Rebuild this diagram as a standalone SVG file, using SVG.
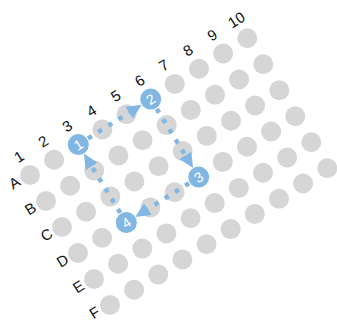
<svg xmlns="http://www.w3.org/2000/svg" width="337" height="322" viewBox="0 0 337 322">
<style>
.cell{fill:#d6d6d6}
.lbl{font-family:"Liberation Sans",Arial,sans-serif;font-size:15px;fill:#111;text-anchor:middle}
.mk{fill:#82b6e3}
.mkt{font-family:"Liberation Sans",Arial,sans-serif;font-size:14px;fill:#fff;text-anchor:middle}
.con{fill:none;stroke:#82b6e3;stroke-width:4.5;stroke-dasharray:4.5 7.5;marker-end:url(#arr)}
</style>
<defs>
<marker id="arr" markerUnits="userSpaceOnUse" markerWidth="18" markerHeight="18" refX="0" refY="7" orient="auto">
<path d="M0,0 L15,7 L0,14 z" fill="#82b6e3"/>
</marker>
</defs>
<g id="cells">
<g id="A1"><circle class="cell" cx="30" cy="175" r="10"/></g>
<g id="A2"><circle class="cell" cx="54.1" cy="159.8" r="10"/></g>
<g id="A3"><circle class="cell" cx="78.3" cy="144.6" r="10"/></g>
<g id="A4"><circle class="cell" cx="102.4" cy="129.4" r="10"/></g>
<g id="A5"><circle class="cell" cx="126.6" cy="114.2" r="10"/></g>
<g id="A6"><circle class="cell" cx="150.7" cy="99.1" r="10"/></g>
<g id="A7"><circle class="cell" cx="174.8" cy="83.9" r="10"/></g>
<g id="A8"><circle class="cell" cx="199" cy="68.7" r="10"/></g>
<g id="A9"><circle class="cell" cx="223.1" cy="53.5" r="10"/></g>
<g id="A10"><circle class="cell" cx="247.3" cy="38.3" r="10"/></g>
<g id="B1"><circle class="cell" cx="46" cy="201" r="10"/></g>
<g id="B2"><circle class="cell" cx="70.1" cy="185.8" r="10"/></g>
<g id="B3"><circle class="cell" cx="94.3" cy="170.6" r="10"/></g>
<g id="B4"><circle class="cell" cx="118.4" cy="155.4" r="10"/></g>
<g id="B5"><circle class="cell" cx="142.6" cy="140.2" r="10"/></g>
<g id="B6"><circle class="cell" cx="166.7" cy="125.1" r="10"/></g>
<g id="B7"><circle class="cell" cx="190.8" cy="109.9" r="10"/></g>
<g id="B8"><circle class="cell" cx="215" cy="94.7" r="10"/></g>
<g id="B9"><circle class="cell" cx="239.1" cy="79.5" r="10"/></g>
<g id="B10"><circle class="cell" cx="263.3" cy="64.3" r="10"/></g>
<g id="C1"><circle class="cell" cx="62" cy="227" r="10"/></g>
<g id="C2"><circle class="cell" cx="86.1" cy="211.8" r="10"/></g>
<g id="C3"><circle class="cell" cx="110.3" cy="196.6" r="10"/></g>
<g id="C4"><circle class="cell" cx="134.4" cy="181.4" r="10"/></g>
<g id="C5"><circle class="cell" cx="158.6" cy="166.2" r="10"/></g>
<g id="C6"><circle class="cell" cx="182.7" cy="151.1" r="10"/></g>
<g id="C7"><circle class="cell" cx="206.8" cy="135.9" r="10"/></g>
<g id="C8"><circle class="cell" cx="231" cy="120.7" r="10"/></g>
<g id="C9"><circle class="cell" cx="255.1" cy="105.5" r="10"/></g>
<g id="C10"><circle class="cell" cx="279.3" cy="90.3" r="10"/></g>
<g id="D1"><circle class="cell" cx="78" cy="253" r="10"/></g>
<g id="D2"><circle class="cell" cx="102.1" cy="237.8" r="10"/></g>
<g id="D3"><circle class="cell" cx="126.3" cy="222.6" r="10"/></g>
<g id="D4"><circle class="cell" cx="150.4" cy="207.4" r="10"/></g>
<g id="D5"><circle class="cell" cx="174.6" cy="192.2" r="10"/></g>
<g id="D6"><circle class="cell" cx="198.7" cy="177.1" r="10"/></g>
<g id="D7"><circle class="cell" cx="222.8" cy="161.9" r="10"/></g>
<g id="D8"><circle class="cell" cx="247" cy="146.7" r="10"/></g>
<g id="D9"><circle class="cell" cx="271.1" cy="131.5" r="10"/></g>
<g id="D10"><circle class="cell" cx="295.3" cy="116.3" r="10"/></g>
<g id="E1"><circle class="cell" cx="94" cy="279" r="10"/></g>
<g id="E2"><circle class="cell" cx="118.1" cy="263.8" r="10"/></g>
<g id="E3"><circle class="cell" cx="142.3" cy="248.6" r="10"/></g>
<g id="E4"><circle class="cell" cx="166.4" cy="233.4" r="10"/></g>
<g id="E5"><circle class="cell" cx="190.6" cy="218.2" r="10"/></g>
<g id="E6"><circle class="cell" cx="214.7" cy="203.1" r="10"/></g>
<g id="E7"><circle class="cell" cx="238.8" cy="187.9" r="10"/></g>
<g id="E8"><circle class="cell" cx="263" cy="172.7" r="10"/></g>
<g id="E9"><circle class="cell" cx="287.1" cy="157.5" r="10"/></g>
<g id="E10"><circle class="cell" cx="311.3" cy="142.3" r="10"/></g>
<g id="F1"><circle class="cell" cx="110" cy="305" r="10"/></g>
<g id="F2"><circle class="cell" cx="134.1" cy="289.8" r="10"/></g>
<g id="F3"><circle class="cell" cx="158.3" cy="274.6" r="10"/></g>
<g id="F4"><circle class="cell" cx="182.4" cy="259.4" r="10"/></g>
<g id="F5"><circle class="cell" cx="206.6" cy="244.2" r="10"/></g>
<g id="F6"><circle class="cell" cx="230.7" cy="229.1" r="10"/></g>
<g id="F7"><circle class="cell" cx="254.8" cy="213.9" r="10"/></g>
<g id="F8"><circle class="cell" cx="279" cy="198.7" r="10"/></g>
<g id="F9"><circle class="cell" cx="303.1" cy="183.5" r="10"/></g>
<g id="F10"><circle class="cell" cx="327.3" cy="168.3" r="10"/></g>
</g>
<g id="connectors">
<path class="con" transform="translate(78.3,144.6) rotate(-32.18)" d="M11.5,0 H60"/>
<path class="con" transform="translate(150.7,99.1) rotate(58.39)" d="M11.5,0 H66"/>
<path class="con" transform="translate(198.7,177.1) rotate(147.82)" d="M11.5,0 H60"/>
<path class="con" transform="translate(126.3,222.6) rotate(-121.61)" d="M11.5,0 H66"/>
</g>
<g id="step1"><circle class="mk" cx="78.3" cy="144.6" r="10.5"/><text class="mkt" transform="translate(78.3,144.6) rotate(-32.18)" y="5">1</text></g>
<g id="step2"><circle class="mk" cx="150.7" cy="99.1" r="10.5"/><text class="mkt" transform="translate(150.7,99.1) rotate(-32.18)" y="5">2</text></g>
<g id="step3"><circle class="mk" cx="198.7" cy="177.1" r="10.5"/><text class="mkt" transform="translate(198.7,177.1) rotate(-32.18)" y="5">3</text></g>
<g id="step4"><circle class="mk" cx="126.3" cy="222.6" r="10.5"/><text class="mkt" transform="translate(126.3,222.6) rotate(-32.18)" y="5">4</text></g>
<g id="col-labels">
<text class="lbl" transform="translate(19,156.5) rotate(-32.18)" y="5.3">1</text>
<text class="lbl" transform="translate(43.1,141.3) rotate(-32.18)" y="5.3">2</text>
<text class="lbl" transform="translate(67.3,126.1) rotate(-32.18)" y="5.3">3</text>
<text class="lbl" transform="translate(91.4,110.9) rotate(-32.18)" y="5.3">4</text>
<text class="lbl" transform="translate(115.6,95.7) rotate(-32.18)" y="5.3">5</text>
<text class="lbl" transform="translate(139.7,80.6) rotate(-32.18)" y="5.3">6</text>
<text class="lbl" transform="translate(163.8,65.4) rotate(-32.18)" y="5.3">7</text>
<text class="lbl" transform="translate(188,50.2) rotate(-32.18)" y="5.3">8</text>
<text class="lbl" transform="translate(212.1,35) rotate(-32.18)" y="5.3">9</text>
<text class="lbl" transform="translate(236.3,19.8) rotate(-32.18)" y="5.3">10</text>
</g>
<g id="row-labels">
<text class="lbl" transform="translate(14.5,182.5) rotate(-32.18)" y="5.3">A</text>
<text class="lbl" transform="translate(30.5,208.5) rotate(-32.18)" y="5.3">B</text>
<text class="lbl" transform="translate(46.5,234.5) rotate(-32.18)" y="5.3">C</text>
<text class="lbl" transform="translate(62.5,260.5) rotate(-32.18)" y="5.3">D</text>
<text class="lbl" transform="translate(78.5,286.5) rotate(-32.18)" y="5.3">E</text>
<text class="lbl" transform="translate(94.5,312.5) rotate(-32.18)" y="5.3">F</text>
</g>
</svg>
